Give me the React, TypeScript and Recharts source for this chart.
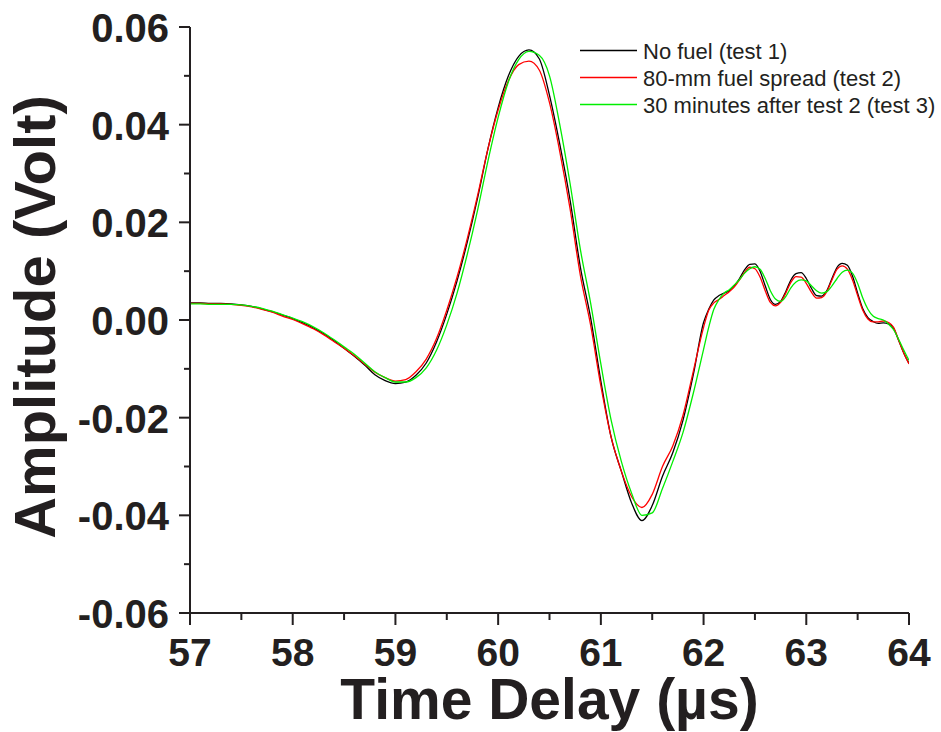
import React from 'react';
import { LineChart, Line, XAxis, YAxis, Legend, Label } from 'recharts';

const times = [
  57.0, 57.1, 57.2, 57.3, 57.4, 57.5, 57.6, 57.7, 57.8, 57.9,
  58.0, 58.1, 58.2, 58.3, 58.4, 58.5, 58.6, 58.7, 58.8, 58.9,
  59.0, 59.1, 59.2, 59.3, 59.4, 59.5, 59.6, 59.7, 59.8, 59.9,
  60.0, 60.1, 60.2, 60.3, 60.4, 60.5, 60.6, 60.7, 60.8, 60.9,
  61.0, 61.1, 61.2, 61.3, 61.4, 61.5, 61.6, 61.7, 61.8, 61.9,
  62.0, 62.05, 62.1, 62.15, 62.2, 62.25, 62.3, 62.35, 62.4, 62.45,
  62.5, 62.55, 62.6, 62.65, 62.7, 62.75, 62.8, 62.85, 62.9, 62.95,
  63.0, 63.05, 63.1, 63.15, 63.2, 63.25, 63.3, 63.35, 63.4, 63.45,
  63.5, 63.55, 63.6, 63.65, 63.7, 63.75, 63.8, 63.85, 63.9, 63.95,
  64.0,
];

const test1 = [
  0.0035, 0.0035, 0.0034, 0.0034, 0.0033, 0.0031, 0.0028, 0.0023, 0.0017, 0.0010,
  0.0003, -0.0006, -0.0016, -0.0028, -0.0042, -0.0058, -0.0074, -0.0092, -0.0112, -0.0124,
  -0.0130, -0.0127, -0.0113, -0.0088, -0.0045, 0.0012, 0.0080, 0.0160, 0.0250, 0.0350,
  0.0435, 0.0500, 0.0540, 0.0553, 0.0535, 0.0460, 0.0360, 0.0246, 0.0109, 0.0005,
  -0.0125, -0.0240, -0.0310, -0.0375, -0.0411, -0.0380, -0.0320, -0.0272, -0.0205, -0.0112,
  -0.0005, 0.0022, 0.0041, 0.0050, 0.0055, 0.0060, 0.0070, 0.0085, 0.0103, 0.0114,
  0.0115, 0.0100, 0.0070, 0.0042, 0.0032, 0.0038, 0.0058, 0.0082, 0.0095, 0.0097,
  0.0085, 0.0065, 0.0050, 0.0049, 0.0060, 0.0085, 0.0108, 0.0116, 0.0112, 0.0090,
  0.0055, 0.0023, 0.0005, -0.0003, -0.0007, -0.0006, -0.0008, -0.0017, -0.0042, -0.0068,
  -0.0089,
];

const test2 = [
  0.0034, 0.0034, 0.0033, 0.0033, 0.0032, 0.0030, 0.0027, 0.0022, 0.0016, 0.0008,
  0.0001, -0.0008, -0.0018, -0.0030, -0.0044, -0.0058, -0.0073, -0.0090, -0.0107, -0.0118,
  -0.0125, -0.0122, -0.0106, -0.0080, -0.0038, 0.0020, 0.0088, 0.0167, 0.0255, 0.0350,
  0.0430, 0.0490, 0.0523, 0.0530, 0.0512, 0.0445, 0.0345, 0.0228, 0.0092, -0.0010,
  -0.0135, -0.0240, -0.0310, -0.0362, -0.0384, -0.0357, -0.0300, -0.0258, -0.0195, -0.0105,
  -0.0015, 0.0020, 0.0035, 0.0042, 0.0050, 0.0058, 0.0068, 0.0082, 0.0098, 0.0108,
  0.0105, 0.0088, 0.0060, 0.0036, 0.0029, 0.0036, 0.0055, 0.0077, 0.0089, 0.0088,
  0.0075, 0.0057, 0.0045, 0.0046, 0.0058, 0.0082, 0.0104, 0.0111, 0.0104, 0.0082,
  0.0050, 0.0020, 0.0002, -0.0004, -0.0004, -0.0002, -0.0005, -0.0015, -0.0042, -0.0068,
  -0.0090,
];

const test3 = [
  0.0033, 0.0033, 0.0032, 0.0032, 0.0032, 0.0031, 0.0028, 0.0024, 0.0018, 0.0011,
  0.0004, -0.0004, -0.0014, -0.0026, -0.0040, -0.0055, -0.0070, -0.0088, -0.0106, -0.0118,
  -0.0127, -0.0127, -0.0118, -0.0098, -0.0062, -0.0010, 0.0055, 0.0135, 0.0225, 0.0325,
  0.0415, 0.0488, 0.0533, 0.0550, 0.0542, 0.0500, 0.0400, 0.0280, 0.0145, 0.0035,
  -0.0090, -0.0205, -0.0290, -0.0355, -0.0400, -0.0395, -0.0345, -0.0290, -0.0230, -0.0150,
  -0.0060, -0.0015, 0.0022, 0.0042, 0.0055, 0.0062, 0.0072, 0.0083, 0.0096, 0.0105,
  0.0109, 0.0104, 0.0085, 0.0060, 0.0043, 0.0038, 0.0048, 0.0066, 0.0078, 0.0082,
  0.0080, 0.0070, 0.0060, 0.0055, 0.0058, 0.0070, 0.0085, 0.0098, 0.0102, 0.0096,
  0.0075, 0.0045, 0.0022, 0.0008, 0.0003, 0.0000, -0.0008, -0.0020, -0.0040, -0.0062,
  -0.0083,
];

const xTicks = [57, 57.5, 58, 58.5, 59, 59.5, 60, 60.5, 61, 61.5, 62, 62.5, 63, 63.5, 64];
const yTicks = [-0.06, -0.05, -0.04, -0.03, -0.02, -0.01, 0, 0.01, 0.02, 0.03, 0.04, 0.05, 0.06];

const seriesNames = ['No fuel (test 1)', '80-mm fuel spread (test 2)', '30 minutes after test 2 (test 3)'];
const seriesColors = ['#000000', '#ff0000', '#00ee00'];

const data = times.map((t, i) => ({ t, test1: test1[i], test2: test2[i], test3: test3[i] }));

const FONT = '"Liberation Sans", Arial, Helvetica, sans-serif';
const INK = '#231f20';

const XTick = (props: any) => {
  const { x, y, payload } = props;
  const v = payload.value as number;
  const major = Math.abs(v - Math.round(v)) < 1e-6;
  return (
    <g>
      <line x1={x} x2={x} y1={y} y2={y + (major ? 12 : 7)} stroke={INK} strokeWidth={2} />
      {major && (
        <text x={x} y={y + 53} textAnchor="middle" fontSize={39} fontWeight="bold" fontFamily={FONT} fill={INK}>
          {String(v)}
        </text>
      )}
    </g>
  );
};

const YTick = (props: any) => {
  const { x, y, payload } = props;
  const v = payload.value as number;
  const major = Math.round(v * 100) % 2 === 0;
  return (
    <g>
      <line x1={x - (major ? 11 : 6)} x2={x} y1={y} y2={y} stroke={INK} strokeWidth={2} />
      {major && (
        <text x={x - 21} y={y + 15} textAnchor="end" fontSize={40} fontWeight="bold" fontFamily={FONT} fill={INK}>
          {v.toFixed(2)}
        </text>
      )}
    </g>
  );
};

const LegendBox = () => (
  <svg width={362} height={90} style={{ display: 'block', overflow: 'visible' }}>
    {seriesNames.map((name, i) => (
      <g key={name}>
        <line x1={5} x2={62} y1={20.5 + i * 27} y2={20.5 + i * 27} stroke={seriesColors[i]} strokeWidth={1.3} />
        <text x={68} y={28.5 + i * 27} fontSize={22} fontFamily={FONT} fill={INK}>
          {name}
        </text>
      </g>
    ))}
  </svg>
);

export default function App() {
  return (
    <div style={{ position: 'absolute', left: 0, top: 0, width: 941, height: 732, background: '#fff' }}>
      <LineChart width={941} height={732} data={data} margin={{ top: 27, right: 32, bottom: 0, left: 0 }}>
        <XAxis
          dataKey="t"
          type="number"
          domain={[57, 64]}
          ticks={xTicks}
          interval={0}
          allowDataOverflow
          height={119}
          tickSize={0}
          tickMargin={0}
          tickLine={false}
          tick={<XTick />}
          axisLine={{ stroke: INK, strokeWidth: 2 }}
        >
          <Label
            content={() => (
              <text x={549.5} y={719} textAnchor="middle" fontSize={57} fontWeight="bold" fontFamily={FONT} fill={INK}>
                Time Delay (µs)
              </text>
            )}
          />
        </XAxis>
        <YAxis
          type="number"
          domain={[-0.06, 0.06]}
          ticks={yTicks}
          interval={0}
          allowDataOverflow
          width={190}
          tickSize={0}
          tickMargin={0}
          tickLine={false}
          tick={<YTick />}
          axisLine={{ stroke: INK, strokeWidth: 2 }}
        >
          <Label
            content={() => (
              <text
                transform="translate(55,317) rotate(-90)"
                textAnchor="middle"
                fontSize={58}
                fontWeight="bold"
                fontFamily={FONT}
                fill={INK}
              >
                Amplitude (Volt)
              </text>
            )}
          />
        </YAxis>
        <Legend
          layout="horizontal"
          verticalAlign="middle"
          align="center"
          content={() => <LegendBox />}
          wrapperStyle={{ position: 'absolute', left: 575, top: 30, width: 362, height: 90 }}
        />
        <Line type="monotone" dataKey="test1" stroke={seriesColors[0]} strokeWidth={1.3} dot={false} isAnimationActive={false} />
        <Line type="monotone" dataKey="test2" stroke={seriesColors[1]} strokeWidth={1.3} dot={false} isAnimationActive={false} />
        <Line type="monotone" dataKey="test3" stroke={seriesColors[2]} strokeWidth={1.3} dot={false} isAnimationActive={false} />
      </LineChart>
    </div>
  );
}
